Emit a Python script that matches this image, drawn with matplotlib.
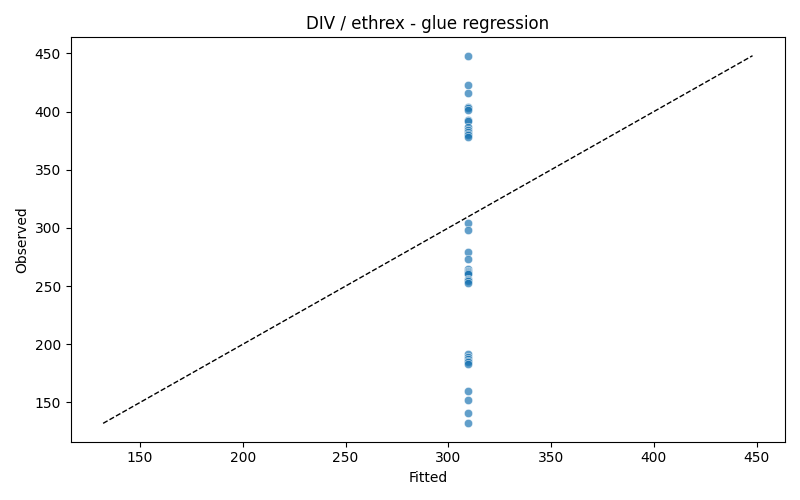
import numpy as np
import matplotlib
matplotlib.use("Agg")
import matplotlib.pyplot as plt
import seaborn as sns

observed = [448, 423, 416, 404, 403, 401, 393, 392, 387, 384, 382, 381, 380, 378,
            304, 298, 279, 273, 265, 263, 262, 261, 260, 256, 255, 254, 253,
            192, 189, 187, 186, 185, 183, 160, 152, 141, 132]
fitted_value = 309.6
fitted = [fitted_value] * len(observed)

fig, ax = plt.subplots(figsize=(8, 5), dpi=100)
sns.scatterplot(x=fitted, y=observed, alpha=0.7, ax=ax)
lo = min(min(observed), min(fitted))
hi = max(max(observed), max(fitted))
ax.plot([lo, hi], [lo, hi], "k--", linewidth=1)
ax.set_xlabel("Fitted")
ax.set_ylabel("Observed")
ax.set_title("DIV / ethrex - glue regression")
fig.tight_layout()
fig.savefig("out.png")
